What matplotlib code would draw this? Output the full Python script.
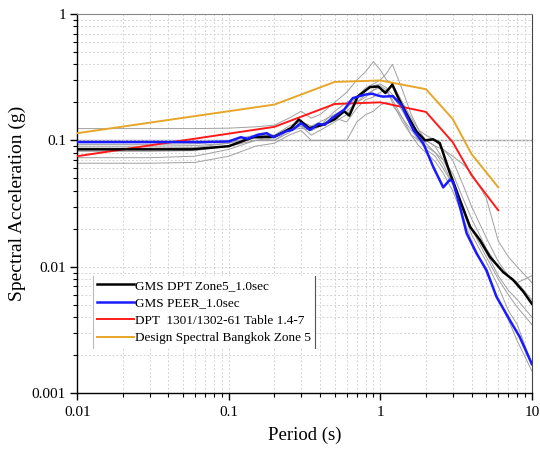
import matplotlib
matplotlib.use("Agg")
import matplotlib.pyplot as plt
from matplotlib.ticker import FixedLocator, LogLocator, NullFormatter, FixedFormatter
from matplotlib.lines import Line2D

plt.rcParams['font.family'] = ['Liberation Serif', 'DejaVu Serif']

# ---- data ----
# GMS DPT Zone5_1.0sec (mean)
t_black = [0.01, 0.057, 0.1, 0.145, 0.2, 0.257, 0.29, 0.34, 0.42, 0.5, 0.577, 0.624, 0.71,
           0.855, 0.97, 1.08, 1.2, 1.33, 1.52, 1.73, 1.97, 2.23, 2.47, 2.88, 3.35, 3.9,
           4.54, 5.28, 6.46, 7.5, 8.75, 10]
sa_black = [0.085, 0.085, 0.09, 0.106, 0.107, 0.125, 0.146, 0.125, 0.133, 0.147, 0.17, 0.157,
            0.223, 0.264, 0.267, 0.237, 0.276, 0.21, 0.155, 0.118, 0.1, 0.102, 0.095, 0.055,
            0.0338, 0.0208, 0.0163, 0.012, 0.0091, 0.0079, 0.0064, 0.0051]

# GMS PEER_1.0sec
t_blue = [0.01, 0.07, 0.1, 0.12, 0.133, 0.156, 0.178, 0.198, 0.238, 0.262, 0.3, 0.342, 0.39,
          0.43, 0.48, 0.577, 0.658, 0.79, 0.88, 0.97, 1.04, 1.21, 1.38, 1.65, 1.92, 2.23,
          2.6, 2.88, 3.02, 3.35, 3.71, 4.31, 5.02, 5.84, 7.14, 8.3, 10]
sa_blue = [0.097, 0.097, 0.098, 0.106, 0.103, 0.111, 0.114, 0.106, 0.118, 0.121, 0.137, 0.121,
           0.135, 0.133, 0.150, 0.175, 0.216, 0.23, 0.234, 0.226, 0.222, 0.224, 0.19, 0.121,
           0.095, 0.062, 0.0425, 0.049, 0.047, 0.030, 0.0184, 0.0128, 0.0094, 0.0058,
           0.0038, 0.0028, 0.0017]

# DPT 1301/1302-61 Table 1.4-7
t_red = [0.01, 0.2, 0.5, 1.0, 2.0, 3.0, 4.0, 6.0]
sa_red = [0.075, 0.128, 0.194, 0.2, 0.168, 0.097, 0.053, 0.028]

# Design Spectral Bangkok Zone 5
t_orange = [0.01, 0.2, 0.5, 1.0, 2.0, 3.0, 4.0, 6.0]
sa_orange = [0.114, 0.192, 0.29, 0.298, 0.254, 0.148, 0.078, 0.0425]

# individual ground motions (thin gray)
t_gray = [0.01, 0.03, 0.06, 0.1, 0.15, 0.2, 0.25, 0.3, 0.35, 0.4, 0.5, 0.6, 0.7, 0.8, 0.9,
          1.0, 1.1, 1.2, 1.4, 1.6, 1.8, 2.0, 2.3, 2.6, 3.0, 3.5, 4.0, 5.0, 6.0, 7.0, 8.0, 10.0]
gray1 = [0.124, 0.124, 0.124, 0.125, 0.128, 0.132, 0.15, 0.17, 0.15, 0.16, 0.2, 0.24, 0.3, 0.35,
         0.42, 0.36, 0.3, 0.28, 0.2, 0.15, 0.12, 0.11, 0.1, 0.085, 0.07, 0.045, 0.03, 0.017,
         0.011, 0.0085, 0.0075, 0.0055]
gray2 = [0.093, 0.093, 0.094, 0.1, 0.11, 0.11, 0.13, 0.14, 0.12, 0.13, 0.17, 0.2, 0.22, 0.26,
         0.28, 0.3, 0.34, 0.4, 0.25, 0.16, 0.12, 0.1, 0.09, 0.07, 0.05, 0.03, 0.02, 0.013,
         0.0085, 0.0065, 0.0055, 0.004]
gray3 = [0.087, 0.087, 0.088, 0.095, 0.105, 0.1, 0.12, 0.13, 0.11, 0.12, 0.14, 0.16, 0.2, 0.22,
         0.25, 0.26, 0.24, 0.22, 0.18, 0.14, 0.11, 0.095, 0.08, 0.07, 0.055, 0.035, 0.024,
         0.014, 0.01, 0.0085, 0.0075, 0.0085]
gray4 = [0.082, 0.082, 0.083, 0.09, 0.1, 0.105, 0.125, 0.13, 0.12, 0.13, 0.15, 0.14, 0.18,
         0.21, 0.22, 0.24, 0.25, 0.2, 0.14, 0.11, 0.1, 0.09, 0.08, 0.065, 0.045, 0.028,
         0.018, 0.011, 0.007, 0.0045, 0.0035, 0.0017]
gray5 = [0.066, 0.066, 0.067, 0.075, 0.09, 0.095, 0.11, 0.12, 0.1, 0.1, 0.1, 0.1, 0.14, 0.16,
         0.17, 0.19, 0.2, 0.19, 0.15, 0.12, 0.1, 0.085, 0.075, 0.06, 0.045, 0.03, 0.02, 0.012,
         0.008, 0.006, 0.0048, 0.0035]
gray6 = [0.073, 0.073, 0.075, 0.085, 0.1, 0.1, 0.115, 0.14, 0.13, 0.14, 0.16, 0.18, 0.22, 0.25,
         0.27, 0.28, 0.26, 0.23, 0.17, 0.13, 0.11, 0.1, 0.09, 0.085, 0.075, 0.065, 0.055, 0.035,
         0.016, 0.012, 0.01, 0.0075]
gray7 = [0.09, 0.09, 0.091, 0.095, 0.108, 0.11, 0.12, 0.125, 0.12, 0.13, 0.155, 0.17, 0.2,
         0.23, 0.25, 0.27, 0.25, 0.21, 0.15, 0.11, 0.09, 0.08, 0.068, 0.055, 0.04, 0.025,
         0.016, 0.009, 0.0055, 0.0038, 0.0026, 0.0015]
grays = [gray1, gray2, gray3, gray4, gray5, gray6, gray7]

labels = ["GMS DPT Zone5_1.0sec", "GMS PEER_1.0sec",
          "DPT  1301/1302-61 Table 1.4-7", "Design Spectral Bangkok Zone 5"]
x_ticks = [0.01, 0.1, 1, 10]
x_ticklabels = ["0.01", "0.1", "1", "10"]
y_ticks = [0.001, 0.01, 0.1, 1]
y_ticklabels = ["0.001", "0.01", "0.1", "1"]

# ---- figure ----
fig = plt.figure(figsize=(5.4, 4.5), dpi=100)
ax = fig.add_axes([0.143, 0.126, 0.842, 0.843])
ax.set_xscale('log')
ax.set_yscale('log')
ax.set_xlim(0.01, 10)
ax.set_ylim(0.001, 1)

ax.grid(True, which='both', color='#d4d4d4', linestyle=(0, (2, 2)), linewidth=0.7)
ax.axhline(0.1, color='#999999', linewidth=1.0, zorder=1.5)

for g in grays:
    ax.plot(t_gray, g, color='#a0a0a0', linewidth=0.7, zorder=2)

l_orange, = ax.plot(t_orange, sa_orange, color='#e8a628', linewidth=1.4, zorder=3)
l_red, = ax.plot(t_red, sa_red, color='#ff1a1a', linewidth=1.4, zorder=3)
l_black, = ax.plot(t_black, sa_black, color='black', linewidth=1.8, zorder=4)
l_blue, = ax.plot(t_blue, sa_blue, color='#1a1aff', linewidth=1.8, zorder=5)

ax.xaxis.set_major_locator(FixedLocator(x_ticks))
ax.xaxis.set_major_formatter(FixedFormatter(x_ticklabels))
ax.yaxis.set_major_locator(FixedLocator(y_ticks))
ax.yaxis.set_major_formatter(FixedFormatter(y_ticklabels))
ax.xaxis.set_minor_locator(LogLocator(base=10, subs=range(2, 10)))
ax.yaxis.set_minor_locator(LogLocator(base=10, subs=range(2, 10)))
ax.xaxis.set_minor_formatter(NullFormatter())
ax.yaxis.set_minor_formatter(NullFormatter())

ax.tick_params(which='major', direction='out', length=5, width=1, labelsize=11,
               top=False, right=False)
ax.tick_params(which='minor', direction='out', length=3, width=0.8, top=False, right=False)
ax.tick_params(axis='x', pad=4)
ax.tick_params(axis='y', pad=3)

ax.spines['top'].set_color('#888888')
ax.spines['right'].set_color('#444444')
for s in ['left', 'bottom']:
    ax.spines[s].set_color('black')
    ax.spines[s].set_linewidth(1.0)

ax.set_xlabel("Period (s)", fontsize=13.5, labelpad=6)
ax.set_ylabel("Spectral Acceleration (g)", fontsize=14, labelpad=4)

leg = ax.legend([l_black, l_blue, l_red, l_orange], labels, loc='upper left',
                bbox_to_anchor=(0.035, 0.31), fontsize=9.5, frameon=True,
                handlelength=2.8, handletextpad=0.1, labelspacing=0.4,
                borderpad=0.3, borderaxespad=0.0)
leg.get_frame().set_edgecolor('none')
leg.get_frame().set_facecolor('white')
leg.get_frame().set_alpha(1.0)

fig.canvas.draw()
bb = leg.get_window_extent().transformed(fig.transFigure.inverted())
fig.add_artist(Line2D([bb.x0, bb.x0], [bb.y0, bb.y1], color='#bbbbbb', linewidth=0.8,
                      transform=fig.transFigure, zorder=10))
fig.add_artist(Line2D([bb.x1, bb.x1], [bb.y0, bb.y1], color='#555555', linewidth=0.8,
                      transform=fig.transFigure, zorder=10))

fig.savefig("out.png", dpi=100)
